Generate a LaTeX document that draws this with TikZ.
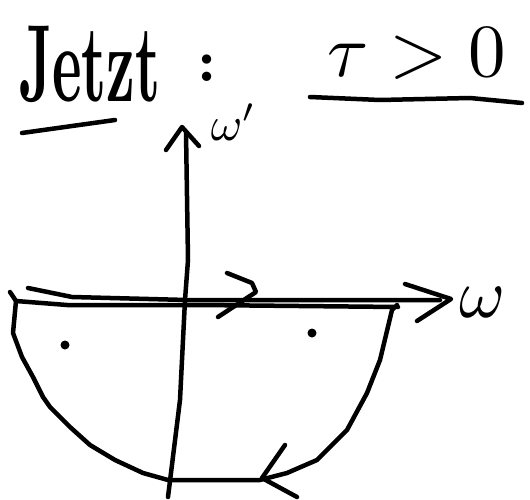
\documentclass[tikz,border=0pt]{standalone}
\begin{document}
\begin{tikzpicture}[x=1pt,y=-1pt,
  pen/.style={line width=4.5pt,line cap=round,line join=round},
  dotmark/.style={fill=black,circle,inner sep=0pt,minimum size=9pt}]
\useasboundingbox (0,0) rectangle (530,500);
% title
\node[anchor=base west,inner sep=0pt,xscale=5.6,yscale=11] (title) at (18,102) {\bfseries Jetzt};
\node[anchor=base west,inner sep=0pt,scale=6] (colon) at (196,82) {\bfseries :};
\node[anchor=base west,inner sep=0pt,scale=7.5] (cond) at (326,77) {$\tau>0$};
\draw[pen] (22,133) -- (115,120);
\draw[pen] (310,97) -- (380,100) -- (470,98) -- (522,103);
% vertical axis
\coordinate (vtop) at (186,132);
\coordinate (vbot) at (168,497);
\draw[pen] (vtop) -- (188,260) -- (185,300) -- (180,400) -- (vbot);
\draw[pen] (166,150) -- (182,127) -- (199,146);
\node[anchor=base west,inner sep=0pt,scale=4.8] (wp) at (210,140) {$\omega'$};
% horizontal axis
\coordinate (hleft) at (28,288);
\coordinate (hright) at (440,300);
\draw[pen] (hleft) -- (72,297) -- (187,300) -- (hright);
\draw[pen] (405,284) -- (451,299) -- (417,321);
\node[anchor=base west,inner sep=0pt,scale=7] (w) at (458,317) {$\omega$};
% contour
\draw[pen] (398,307) -- (200,305) -- (67,305) -- (16,301)
  -- (13,333) -- (22,357) -- (33,377) -- (43,397) -- (50,407) -- (70,427) -- (90,445)
  -- (115,460) -- (143,473) -- (168,480) -- (260,480)
  -- (287,473) -- (317,460) -- (347,430) -- (367,393) -- (380,360) -- (392,310) -- (397,305);
\draw[pen] (10,292) -- (16,301);
% direction arrows
\draw[pen] (227,273) -- (252,283) -- (256,292) -- (218,317);
\draw[pen] (285,445) -- (262,478) -- (297,497);
% poles
\node[dotmark] (p1) at (65,345) {};
\node[dotmark] (p2) at (312,333) {};
\end{tikzpicture}
\end{document}
